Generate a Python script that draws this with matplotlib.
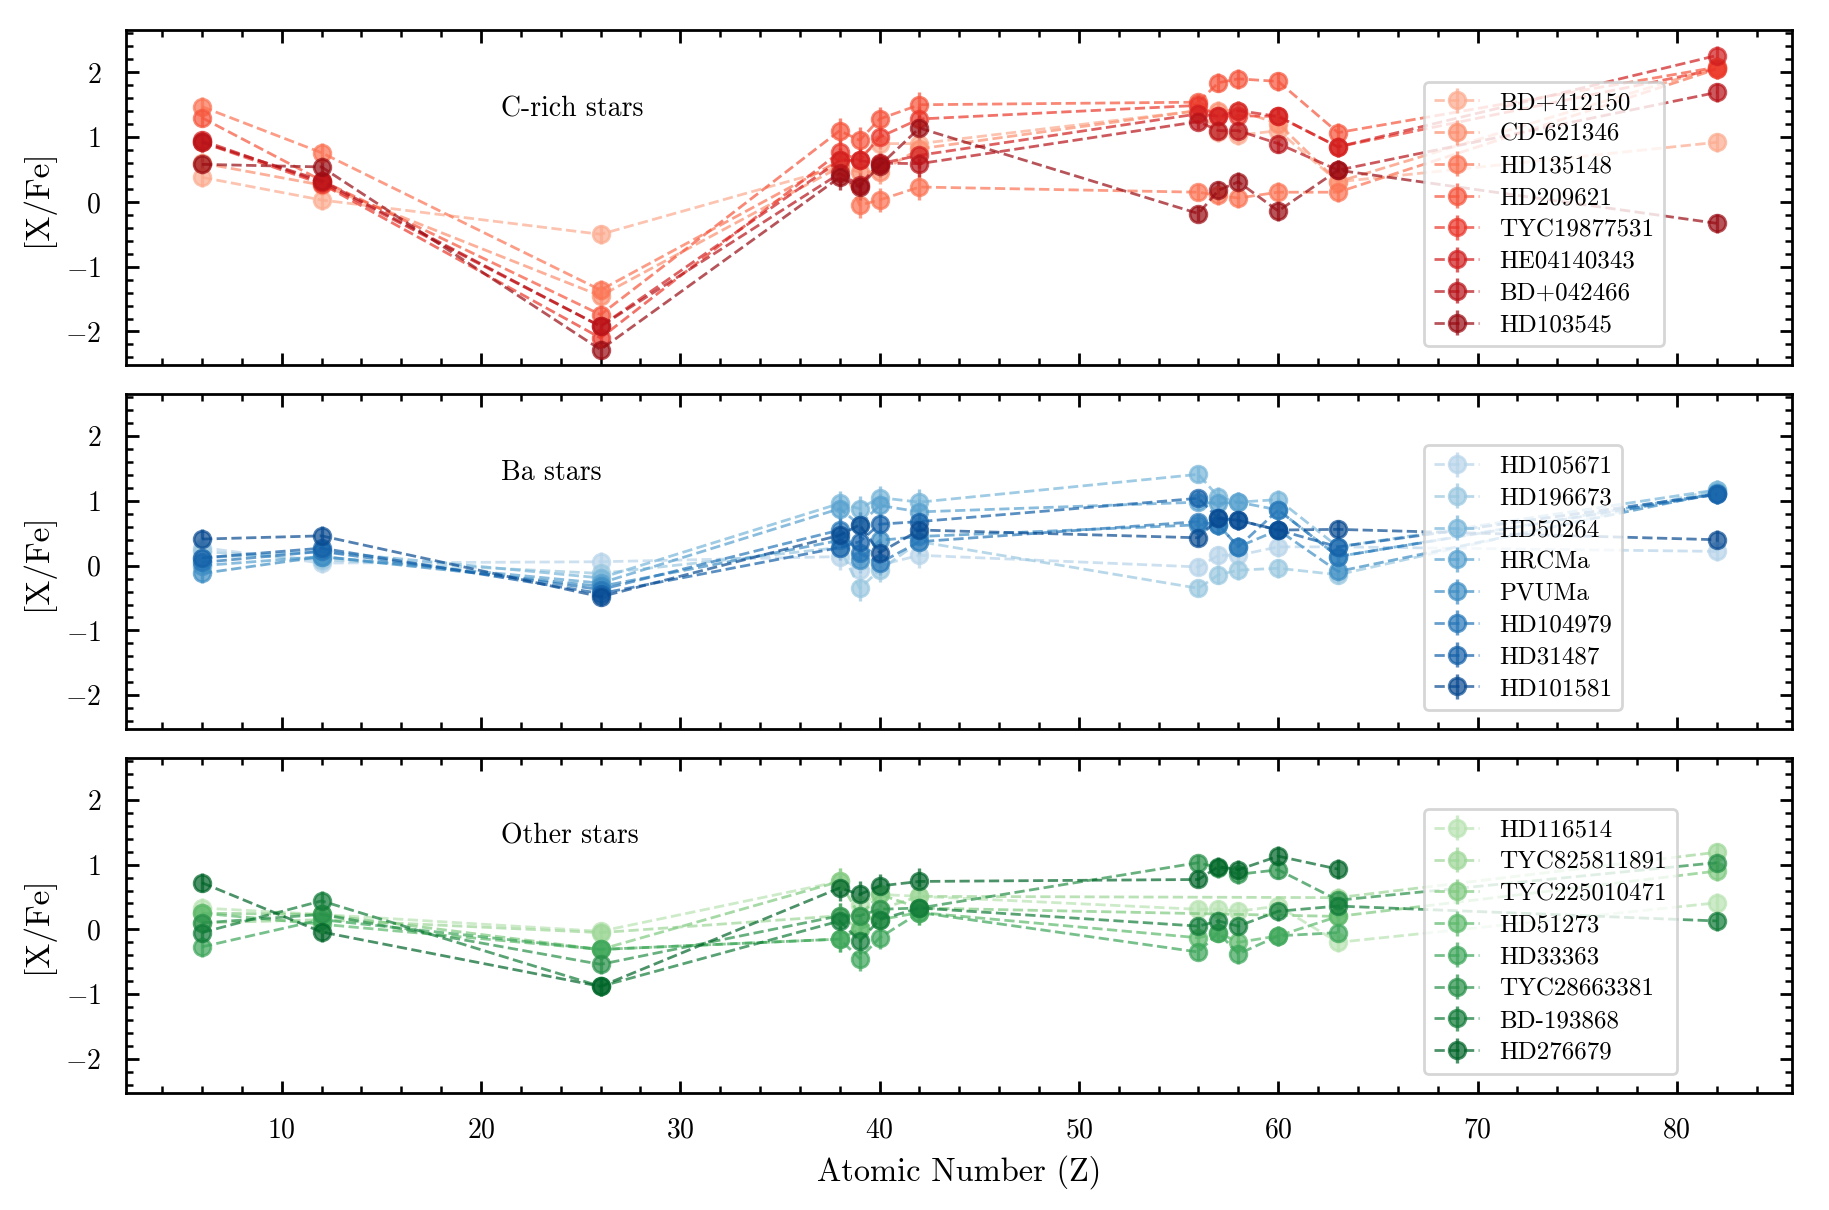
import numpy as np
import matplotlib
matplotlib.use("Agg")
import matplotlib.pyplot as plt
from matplotlib.ticker import AutoMinorLocator

plt.rcParams['font.family'] = 'serif'
plt.rcParams['font.serif'] = ['cmr10', 'DejaVu Serif']
plt.rcParams['mathtext.fontset'] = 'cm'
plt.rcParams['axes.formatter.use_mathtext'] = True
plt.rcParams['axes.unicode_minus'] = True

nan = np.nan

# atomic numbers of the measured elements: C Mg Fe Sr Y Zr Mo Ba La Ce Nd Eu Pb
Z = np.array([6, 12, 26, 38, 39, 40, 42, 56, 57, 58, 60, 63, 82])
# typical uncertainty per element
ERR = np.array([0.15, 0.15, 0.15, 0.20, 0.20, 0.18, 0.20, 0.12, 0.15, 0.15, 0.15, 0.15, 0.15])

crich_names = ['BD+412150', 'CD-621346', 'HD135148', 'HD209621',
               'TYC19877531', 'HE04140343', 'BD+042466', 'HD103545']
crich_vals = [
    [0.38, 0.03, -0.50, 0.54, nan, 0.90, 0.90, 1.41, 1.08, 1.03, 1.10, 0.31, 0.92],
    [0.60, 0.26, -1.45, 0.54, 0.46, 0.46, 0.82, 1.41, 1.41, 1.41, 1.21, 0.31, 2.08],
    [1.47, 0.76, -1.36, 0.64, -0.05, 0.03, 0.23, 0.15, 0.10, 0.06, 0.15, 0.15, 2.05],
    [1.30, 0.33, -1.74, 1.10, 0.95, 1.28, 1.50, 1.54, 1.84, 1.90, 1.86, 1.07, 2.08],
    [0.92, 0.28, -2.10, 0.77, 0.64, 1.00, 1.28, 1.49, 1.32, 1.33, 1.32, 0.85, 2.05],
    [0.95, 0.30, -1.92, 0.64, 0.64, 0.59, 0.72, 1.36, 1.32, 1.41, 1.32, 0.85, 2.26],
    [0.92, 0.33, -1.92, 0.44, 0.26, 0.60, 0.59, 1.24, 1.10, 1.10, 0.90, 0.49, 1.69],
    [0.58, 0.54, -2.28, 0.38, 0.23, 0.56, 1.14, -0.18, 0.18, 0.31, -0.14, 0.49, -0.33],
]

ba_names = ['HD105671', 'HD196673', 'HD50264', 'HRCMa',
            'PVUMa', 'HD104979', 'HD31487', 'HD101581']
ba_vals = [
    [0.28, 0.04, 0.06, 0.14, -0.07, nan, 0.16, -0.02, 0.16, 0.16, 0.29, 0.29, 0.22],
    [0.22, 0.09, -0.12, 0.28, -0.35, -0.07, 0.37, -0.35, -0.14, -0.07, -0.04, -0.14, 1.17],
    [0.12, 0.22, -0.19, 0.96, 0.88, 1.05, 0.98, 1.41, 1.06, 0.98, 1.02, 0.29, 1.17],
    [0.00, 0.14, -0.27, 0.88, 0.63, 0.93, 0.83, 0.98, 0.96, 0.98, 0.86, 0.14, 1.12],
    [-0.12, 0.14, -0.32, 0.39, 0.09, 0.39, 0.45, 0.63, 0.63, 0.29, 0.55, -0.09, 1.12],
    [0.05, 0.22, -0.37, 0.55, 0.19, 0.04, 0.37, 0.68, 0.63, 0.29, 0.86, 0.14, 1.10],
    [0.12, 0.27, -0.43, 0.28, 0.37, 0.64, 0.68, 1.04, 0.73, 0.70, 0.55, 0.29, 1.10],
    [0.41, 0.46, -0.48, 0.47, 0.63, 0.20, 0.55, 0.43, 0.73, 0.70, 0.55, 0.56, 0.40],
]

other_names = ['HD116514', 'TYC825811891', 'TYC225010471', 'HD51273',
               'HD33363', 'TYC28663381', 'BD-193868', 'HD276679']
other_vals = [
    [0.33, 0.23, -0.03, 0.74, 0.38, 0.54, 0.51, 0.31, 0.31, 0.28, 0.36, -0.20, 0.41],
    [0.10, 0.15, -0.05, 0.21, 0.00, 0.31, 0.51, nan, nan, nan, nan, 0.49, 1.19],
    [0.25, 0.23, -0.31, 0.74, 0.21, 0.54, 0.33, nan, nan, nan, nan, 0.20, 0.90],
    [0.25, 0.08, -0.31, -0.15, 0.00, 0.15, 0.26, -0.13, -0.05, -0.20, -0.10, 0.20, nan],
    [-0.27, 0.15, -0.31, -0.15, -0.45, -0.13, 0.26, -0.35, -0.05, -0.38, -0.10, -0.05, nan],
    [0.10, 0.23, -0.54, 0.21, 0.21, 0.31, 0.33, 1.03, 0.95, 0.85, 0.92, 0.45, 1.03],
    [-0.05, 0.44, -0.88, 0.13, -0.18, 0.15, 0.33, 0.05, 0.13, 0.05, 0.28, 0.36, 0.13],
    [0.72, -0.04, -0.88, 0.64, 0.54, 0.67, 0.74, 0.77, 0.97, 0.92, 1.13, 0.93, nan],
]

panels = [
    ('C-rich stars', crich_names, crich_vals, plt.cm.Reds),
    ('Ba stars', ba_names, ba_vals, plt.cm.Blues),
    ('Other stars', other_names, other_vals, plt.cm.Greens),
]

fig, axes = plt.subplots(3, 1, figsize=(9.145, 6.05), dpi=200, sharex=True, sharey=True)
fig.subplots_adjust(left=0.069, right=0.980, top=0.975, bottom=0.097, hspace=0.086)

for ax, (title, names, vals, cmap) in zip(axes, panels):
    colors = cmap(np.linspace(0.3, 0.9, len(names)))
    for name, v, c in zip(names, vals, colors):
        v = np.array(v, dtype=float)
        m = ~np.isnan(v)
        ax.errorbar(Z[m], v[m], yerr=ERR[m], fmt='o--', color=c, ms=6,
                    lw=1.0, elinewidth=1.2, capsize=0, alpha=0.7, label=name)
    ax.text(0.225, 0.765, title, transform=ax.transAxes, fontsize=10, va='center')
    ax.set_ylabel('[X/Fe]', fontsize=12)
    ax.legend(loc='lower left', bbox_to_anchor=(0.779, 0.056), borderaxespad=0,
              fontsize=9, labelspacing=0.37, handlelength=1.8)
    ax.xaxis.set_minor_locator(AutoMinorLocator(5))
    ax.yaxis.set_minor_locator(AutoMinorLocator(5))
    ax.tick_params(which='both', direction='in', top=True, right=True,
                   labelsize=10, pad=9)
    ax.tick_params(which='major', length=4.5, width=1.0)
    ax.tick_params(which='minor', length=2.5, width=0.9)
    for sp in ax.spines.values():
        sp.set_linewidth(1.0)

axes[0].set_xlim(2.2, 85.8)
axes[0].set_ylim(-2.52, 2.65)
axes[0].set_yticks([-2, -1, 0, 1, 2])
axes[-1].set_xlabel('Atomic Number (Z)', fontsize=11.7)

fig.savefig('out.png', dpi=200)
